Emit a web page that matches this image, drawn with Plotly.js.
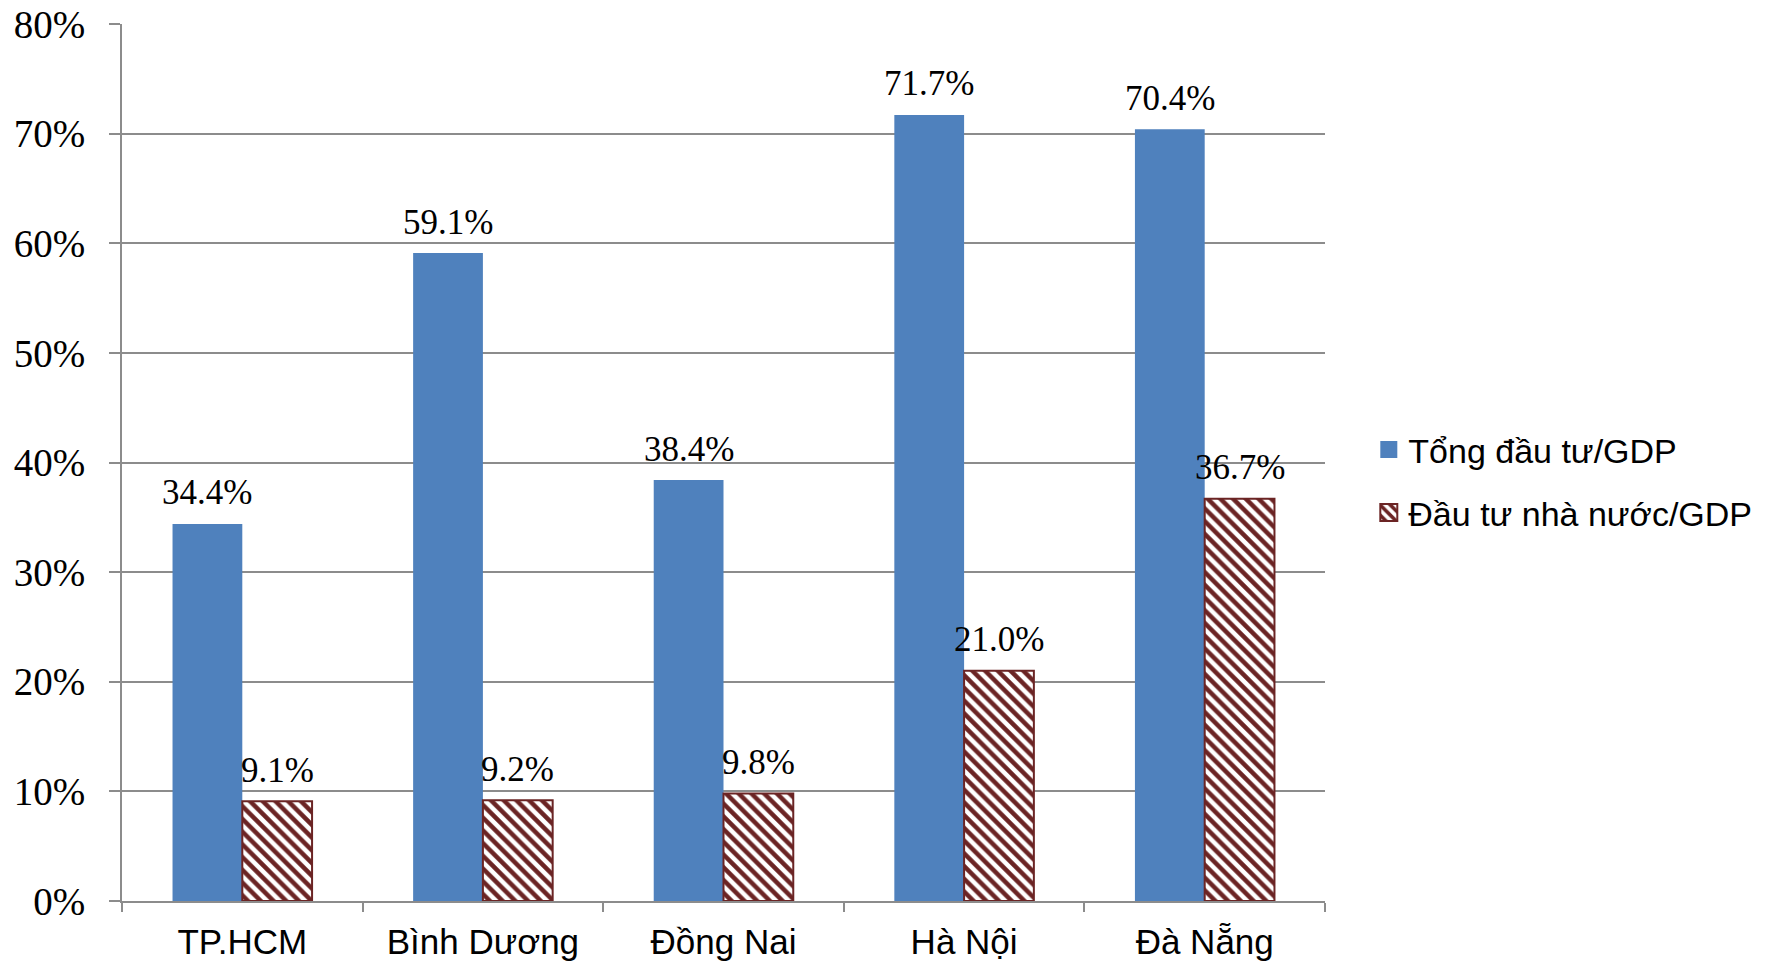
<!DOCTYPE html>
<html>
<head>
<meta charset="utf-8">
<script src="https://cdn.plot.ly/plotly-3.0.1.min.js"></script>
<style>
  html, body { margin: 0; padding: 0; background: #ffffff; }
  #chart { width: 1767px; height: 964px; }
</style>
</head>
<body>
<div id="chart"></div>
<script>
// Tỷ lệ đầu tư trên GDP theo địa phương
const provinces = ["TP.HCM", "Bình Dương", "Đồng Nai", "Hà Nội", "Đà Nẵng"];
const totalInvestment = [0.344, 0.591, 0.384, 0.717, 0.704];
const stateInvestment = [0.091, 0.092, 0.098, 0.210, 0.367];
const seriesNames = ["Tổng đầu tư/GDP", "Đầu tư nhà nước/GDP"];
const yTickValues = [0, 0.1, 0.2, 0.3, 0.4, 0.5, 0.6, 0.7, 0.8];

const BLUE = "#4f81bd";
const MAROON = "#6b2424";
const GRID = "#8c8c8c";
const SERIF = "Liberation Serif, Times New Roman, serif";
const SANS = "Liberation Sans, Arial, sans-serif";

const traces = [
  {
    type: "bar",
    name: seriesNames[0],
    legendgroup: "a",
    x: provinces,
    y: totalInvestment,
    marker: { color: BLUE, line: { width: 0 } },
    hoverinfo: "x+y"
  },
  {
    type: "bar",
    name: seriesNames[1],
    legendgroup: "b",
    x: provinces,
    y: stateInvestment,
    marker: {
      color: "#ffffff",
      line: { color: MAROON, width: 2 },
      pattern: { shape: "\\", fgcolor: MAROON, bgcolor: "#ffffff", size: 9, solidity: 0.5, fillmode: "replace" }
    },
    hoverinfo: "x+y"
  }
];

// Value labels above each bar, offset to the left/right bar of each group
const barHalf = 35;
const annotations = [];
function addLabels(values, shift) {
  values.forEach(function (v, i) {
    annotations.push({
      x: provinces[i], y: v, xref: "x", yref: "y",
      text: (v * 100).toFixed(1) + "%",
      showarrow: false, xshift: shift, yshift: 31, yanchor: "middle",
      font: { family: SERIF, size: 35, color: "#000000" }
    });
  });
}
addLabels(totalInvestment, -barHalf);
addLabels(stateInvestment, barHalf);

const layout = {
  width: 1767,
  height: 964,
  margin: { l: 122, r: 442, t: 24, b: 63, pad: 0, autoexpand: false },
  paper_bgcolor: "#ffffff",
  plot_bgcolor: "#ffffff",
  barmode: "group",
  bargap: 0.42,
  bargroupgap: 0,
  showlegend: true,
  legend: {
    x: 1.036, y: 0.478, xanchor: "left", yanchor: "middle",
    font: { family: SANS, size: 34, color: "#000000" },
    tracegroupgap: 16,
    bgcolor: "rgba(0,0,0,0)"
  },
  xaxis: {
    type: "category",
    showline: true, linecolor: GRID, linewidth: 2,
    ticks: "outside", tickson: "boundaries", ticklen: 9, tickwidth: 2, tickcolor: GRID,
    tickfont: { family: SANS, size: 35, color: "#000000" },
    ticklabelstandoff: 9,
    showgrid: false, zeroline: false, fixedrange: true
  },
  yaxis: {
    range: [0, 0.8],
    tickvals: yTickValues,
    tickformat: ".0%",
    showline: true, linecolor: GRID, linewidth: 2,
    ticks: "outside", ticklen: 11, tickwidth: 2, tickcolor: GRID,
    tickfont: { family: SERIF, size: 39, color: "#000000" },
    ticklabelstandoff: 16,
    showgrid: true, gridcolor: GRID, gridwidth: 2,
    zeroline: false, fixedrange: true
  },
  annotations: annotations
};

Plotly.newPlot("chart", traces, layout, { displayModeBar: false, staticPlot: true }).then(function (gd) {
  // larger square legend swatches, placed just before the item text
  gd.querySelectorAll(".legendpoints path").forEach(function (p) {
    p.setAttribute("d", "M-8,-9H9V8H-8Z");
  });
  gd.querySelectorAll(".legendpoints, .legendpoints *").forEach(function (el) {
    el.removeAttribute("clip-path");
  });
});
</script>
</body>
</html>
